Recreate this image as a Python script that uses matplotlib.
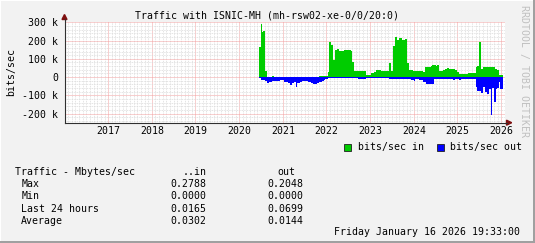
import matplotlib
matplotlib.use("Agg")
import matplotlib.pyplot as plt
from matplotlib.lines import Line2D
from matplotlib.patches import Polygon, Rectangle
import numpy as np

# ---------------- data (kbit/s, decimal years) ----------------
in_edges = [2020.444, 2020.489, 2020.534, 2020.557, 2020.602, 2020.647, 2020.760, 2020.805,
            2021.821, 2022.025, 2022.047, 2022.093, 2022.160, 2022.206, 2022.251, 2022.296,
            2022.341, 2022.409, 2022.431, 2022.567, 2022.589, 2022.635, 2022.906, 2023.019,
            2023.086, 2023.132, 2023.244, 2023.312, 2023.357, 2023.425, 2023.470, 2023.515,
            2023.560, 2023.606, 2023.651, 2023.719, 2023.809, 2023.854, 2023.899, 2023.990,
            2024.216, 2024.261, 2024.397, 2024.419, 2024.509, 2024.532, 2024.577, 2024.667,
            2024.712, 2024.758, 2024.803, 2024.938, 2024.983, 2025.028, 2025.232, 2025.413,
            2025.458, 2025.503, 2025.546, 2025.591, 2025.817, 2025.862, 2025.907, 2025.952,
            2025.975, 2026.040]
in_kbps = [166, 293, 249, 254, 35, 2, 7, 2, 7, 29, 190, 177, 95, 150, 155, 144, 141, 146, 150,
           144, 80, 35, 12, 22, 27, 40, 35, 31, 35, 77, 35, 172, 220, 205, 214, 205, 210, 77,
           40, 35, 27, 53, 58, 68, 62, 68, 31, 36, 46, 51, 46, 40, 27, 16, 22, 53, 62, 194,
           46, 53, 57, 46, 40, 14, 10]

out_edges = [2020.444, 2020.489, 2020.602, 2020.647, 2020.692, 2020.760, 2020.828, 2020.896,
             2020.941, 2021.031, 2021.076, 2021.122, 2021.167, 2021.212, 2021.257, 2021.302,
             2021.325, 2021.393, 2021.438, 2021.506, 2021.573, 2021.641, 2021.686, 2021.777,
             2021.821, 2021.889, 2021.934, 2021.957, 2022.025, 2022.589, 2022.725, 2022.906,
             2023.425, 2023.741, 2023.944, 2024.012, 2024.035, 2024.125, 2024.216, 2024.283,
             2024.464, 2024.893, 2024.938, 2025.028, 2025.074, 2025.413, 2025.458, 2025.546,
             2025.591, 2025.637, 2025.682, 2025.727, 2025.772, 2025.795, 2025.840, 2025.885,
             2025.907, 2025.952, 2025.975, 2026.040]
out_kbps = [5, 18, 24, 33, 27, 24, 20, 24, 16, 26, 29, 33, 42, 33, 29, 57, 33, 27, 24, 20, 27,
            33, 37, 33, 27, 24, 15, 9, 6, 3, 12, 6, 9, 12, 15, 20, 11, 15, 29, 37, 11, 16, 11,
            16, 11, 52, 75, 88, 55, 84, 92, 66, 209, 60, 139, 68, 60, 29, 66]

year_ticks = [2017, 2018, 2019, 2020, 2021, 2022, 2023, 2024, 2025, 2026]
y_ticks = [300, 200, 100, 0, -100, -200]
y_tick_labels = ["300 k", "200 k", "100 k", "0", "-100 k", "-200 k"]

title = "Traffic with ISNIC-MH (mh-rsw02-xe-0/0/20:0)"
legend_labels = ["bits/sec in", "bits/sec out"]
stat_rows = ["Max", "Min", "Last 24 hours", "Average"]
stat_in = ["0.2788", "0.0000", "0.0165", "0.0302"]
stat_out = ["0.2048", "0.0000", "0.0699", "0.0144"]
timestamp = "Friday January 16 2026 19:33:00"

# ---------------- figure ----------------
W, H = 535, 243
FONT = "DejaVu Sans Mono"
FS = 7.1
GREEN = "#00cc00"
BLUE = "#0000ff"
BG = "#f2f2f2"

fig = plt.figure(figsize=(W / 100, H / 100), dpi=100, facecolor=BG)

def fx(px):
    return px / W

def fy(py):
    return 1 - py / H

x0, x1 = 64.5, 504.8
ytop, ybot = 22.3, 122.7
ax = fig.add_axes([fx(x0), fy(ybot), fx(x1) - fx(x0), (ybot - ytop) / H])
ax.set_facecolor("white")
ax.set_xlim(2016.097, 2026.040)
ax.set_ylim(-250, 300)
for s in ax.spines.values():
    s.set_visible(False)

# grid
months = np.arange(2016.0, 2026.1, 1 / 12)
ax.set_xticks(months, minor=True)
ax.set_yticks(np.arange(-240, 301, 20), minor=True)
ax.set_xticks(year_ticks)
ax.set_xticklabels([str(y) for y in year_ticks], fontfamily=FONT, fontsize=FS)
ax.set_yticks(y_ticks)
ax.set_yticklabels(y_tick_labels, fontfamily=FONT, fontsize=FS)
ax.tick_params(which="both", length=0)
ax.tick_params(axis="y", pad=4.4)
ax.tick_params(axis="x", pad=2.6)
ax.grid(which="minor", color="#dadada", linestyle=(0, (1, 1)), linewidth=0.6)
ax.grid(which="major", color="#f2a0a0", linestyle=(0, (1, 1)), linewidth=0.72)
ax.set_axisbelow(True)

# data
ax.stairs(in_kbps, in_edges, fill=True, color=GREEN, baseline=0, zorder=3)
ax.stairs([-v for v in out_kbps], out_edges, fill=True, color=BLUE, baseline=0, zorder=3)

# axes lines and arrows (figure coordinates)
axis_col = "#303030"
arrow_col = "#7f1010"
fig.add_artist(Line2D([fx(x0), fx(507)], [fy(ybot), fy(ybot)], color=axis_col, lw=0.8))
fig.add_artist(Line2D([fx(x0), fx(x0)], [fy(ybot), fy(19)], color=axis_col, lw=0.8))
fig.add_artist(Polygon([[fx(62), fy(19.5)], [fx(67), fy(19.5)], [fx(64.5), fy(14.5)]],
                       closed=True, color=arrow_col, transform=fig.transFigure))
fig.add_artist(Polygon([[fx(506.5), fy(120.2)], [fx(506.5), fy(125.2)], [fx(511.7), fy(122.7)]],
                       closed=True, color=arrow_col, transform=fig.transFigure))

# texts
fig.text(fx(267), fy(15.7), title, ha="center", va="center", fontfamily=FONT, fontsize=FS)
fig.text(fx(11), fy(72), "bits/sec", ha="center", va="center", rotation=90,
         fontfamily=FONT, fontsize=FS)
fig.text(fx(523.5), fy(5), "RRDTOOL / TOBI OETIKER", ha="center", va="top", rotation=270,
         fontfamily=FONT, fontsize=FS, color="#c0c0c0")

# legend
for bx, tx, col, lab in [(344, 357.7, GREEN, legend_labels[0]), (437, 450, BLUE, legend_labels[1])]:
    fig.add_artist(Rectangle((fx(bx), fy(150.5)), 7 / W, 7 / H, facecolor=col,
                             edgecolor="#202020", lw=0.6, transform=fig.transFigure))
    fig.text(fx(tx), fy(147), lab, ha="left", va="center", fontfamily=FONT, fontsize=FS)

# statistics block
fig.text(fx(15.4), fy(172), "Traffic - Mbytes/sec", ha="left", va="center", fontfamily=FONT, fontsize=FS)
fig.text(fx(206.5), fy(172), "..in", ha="right", va="center", fontfamily=FONT, fontsize=FS)
fig.text(fx(295.6), fy(172), "out", ha="right", va="center", fontfamily=FONT, fontsize=FS)
row_y = [184, 196, 208.5, 221]
for lab, vi, vo, yy in zip(stat_rows, stat_in, stat_out, row_y):
    fig.text(fx(21.2), fy(yy), lab, ha="left", va="center", fontfamily=FONT, fontsize=FS)
    fig.text(fx(206.5), fy(yy), vi, ha="right", va="center", fontfamily=FONT, fontsize=FS)
    fig.text(fx(303.8), fy(yy), vo, ha="right", va="center", fontfamily=FONT, fontsize=FS)
fig.text(fx(520.5), fy(232.4), timestamp, ha="right", va="center", fontfamily=FONT, fontsize=FS)

# 3D frame
fig.add_artist(Rectangle((fx(533), 0), 2 / W, 1, color="#a0a0a0", transform=fig.transFigure, lw=0))
fig.add_artist(Rectangle((0, 0), 1, 2 / H, color="#a0a0a0", transform=fig.transFigure, lw=0))
fig.add_artist(Rectangle((0, fy(1)), fx(533), 1 / H, color="white", transform=fig.transFigure, lw=0))
fig.add_artist(Rectangle((0, 2 / H), 1 / W, 1, color="white", transform=fig.transFigure, lw=0))

fig.savefig("out.png", dpi=100, facecolor=BG)
